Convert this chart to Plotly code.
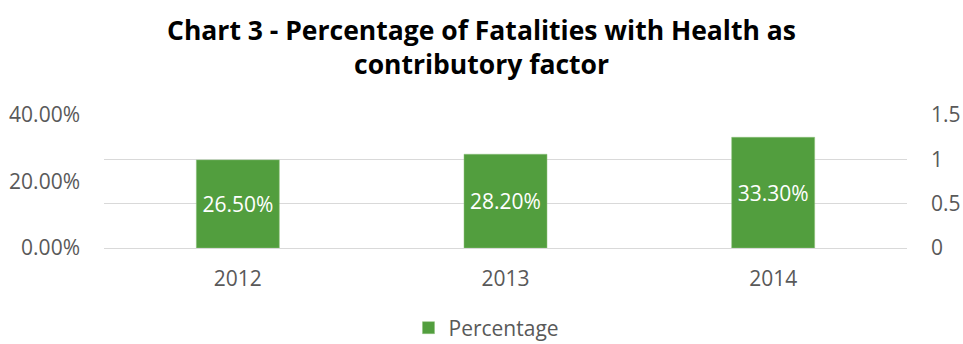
import plotly.graph_objects as go

years = ["2012", "2013", "2014"]
percentage = [0.265, 0.282, 0.333]
left_ticks = [0, 0.2, 0.4]
right_ticks = [0, 0.5, 1, 1.5]

GREEN = "#529E3E"
GRAY = "#595959"
FONT = "Open Sans"
FS = 21

fig = go.Figure()
fig.add_trace(go.Bar(
    x=years, y=percentage, name="Percentage",
    marker=dict(color=GREEN, line=dict(color="#8cc07a", width=0.5)),
    text=[f"{v*100:.2f}%" for v in percentage],
    textposition="inside", insidetextanchor="middle",
    textfont=dict(color="white", size=FS, family=FONT),
    yaxis="y",
))
fig.add_trace(go.Scatter(x=years, y=[None]*3, yaxis="y2", showlegend=False,
                         hoverinfo="skip", mode="lines"))

fig.update_layout(
    width=963, height=344,
    margin=dict(l=104, r=56, t=115, b=96, autoexpand=False),
    paper_bgcolor="white", plot_bgcolor="white",
    font=dict(family=FONT, color=GRAY, size=FS),
    title=dict(text="<b>Chart 3 - Percentage of Fatalities with Health as<br>contributory factor</b>",
               x=0.5, xanchor="center", y=1 - 40/344, yanchor="middle",
               font=dict(size=26.5, color="#000000", family=FONT)),
    bargap=0.69,
    xaxis=dict(showgrid=False, showline=True, linecolor="#D9D9D9", linewidth=1,
               ticks="", tickfont=dict(size=FS, color=GRAY), ticklabelstandoff=12),
    yaxis=dict(range=[0, 0.4], tickvals=left_ticks, tickformat=".2%",
               showgrid=False, zeroline=False, showline=False,
               tickfont=dict(size=FS, color=GRAY), ticklabelstandoff=23),
    yaxis2=dict(range=[0, 1.5], tickvals=right_ticks, overlaying="y", side="right",
                showgrid=True, gridcolor="#D9D9D9", gridwidth=1, zeroline=False,
                showline=False, tickfont=dict(size=FS, color=GRAY), ticklabelstandoff=23),
    legend=dict(orientation="h", xref="container", x=0.5 + 5/963, xanchor="center",
                yref="container", y=1 - 328/344, yanchor="middle",
                font=dict(size=FS, color=GRAY)),
    showlegend=True,
)

fig.write_html("out.html")
